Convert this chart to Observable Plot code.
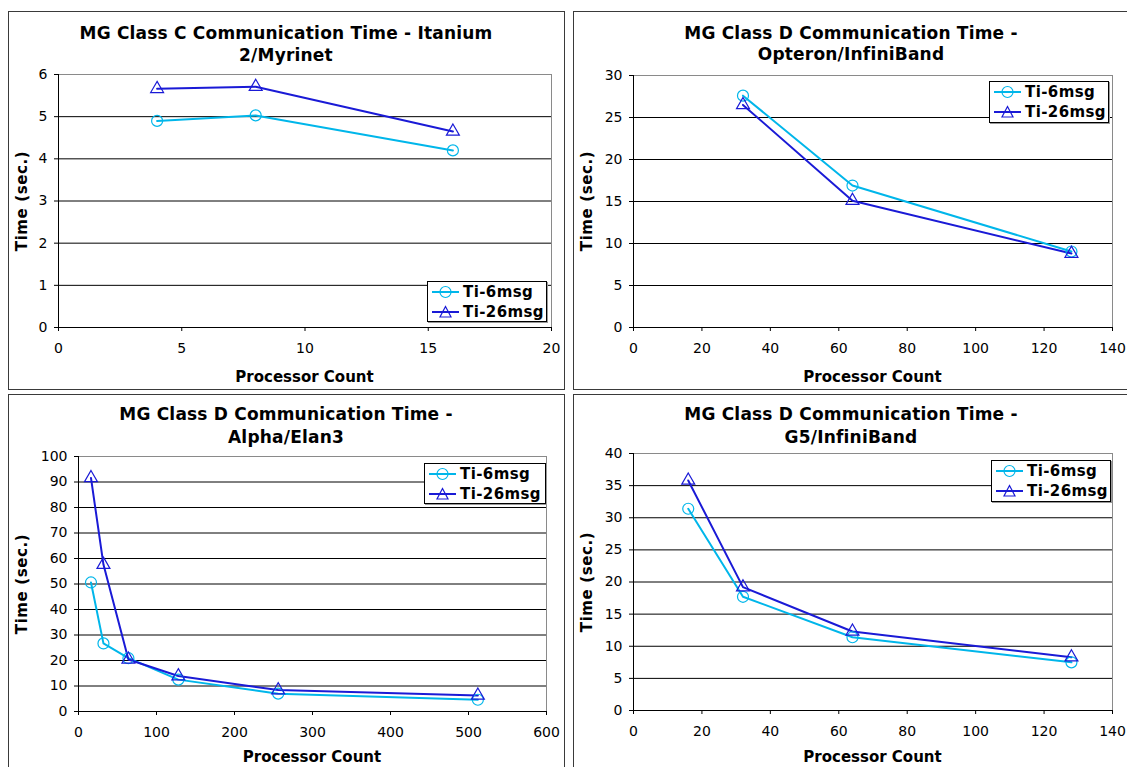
<!DOCTYPE html>
<html>
<head>
<meta charset="utf-8">
<script src="https://cdn.jsdelivr.net/npm/d3@7"></script>
<script src="https://cdn.jsdelivr.net/npm/@observablehq/plot@0.6"></script>
<style>
  html, body { margin: 0; padding: 0; background: #fff; }
  #root { position: relative; width: 1127px; height: 767px; overflow: hidden; background: #fff; font-family: "DejaVu Sans", Verdana, sans-serif; color: #000; }
  .box { position: absolute; border: 1px solid #3a3a3a; box-sizing: border-box; }
  .title { position: absolute; font-weight: bold; font-size: 17px; letter-spacing: 0.2px; text-align: center; line-height: 22px; white-space: nowrap; }
  .xlab { position: absolute; font-weight: bold; font-size: 15px; white-space: nowrap; transform: translate(-50%, -50%); }
  .ylab { position: absolute; font-weight: bold; font-size: 15px; letter-spacing: 0.6px; white-space: nowrap; transform: translate(-50%, -50%) rotate(-90deg); }
  .legend { position: absolute; border: 1px solid #000; background: #fff; box-sizing: border-box; box-shadow: 1px 1px 0 #999; }
  .legrow { position: absolute; left: 4px; height: 20px; display: flex; align-items: center; font-weight: bold; font-size: 15px; letter-spacing: 0.4px; white-space: nowrap; }
  .legrow svg { margin-right: 4px; }
  svg.plot { position: absolute; }
</style>
</head>
<body>
<div id="root"></div>
<script>
// ---- Data ----
const seriesNames = ["Ti-6msg", "Ti-26msg"];
const seriesColors = ["#00B6EA", "#1A1AD6"];

const p1Title = ["MG Class C Communication Time - Itanium", "2/Myrinet"];
const p1X = [4, 8, 16];
const p1Ti6 = [4.9, 5.03, 4.2];
const p1Ti26 = [5.66, 5.71, 4.65];
const p1XTicks = [0, 5, 10, 15, 20];
const p1YTicks = [0, 1, 2, 3, 4, 5, 6];

const p2Title = ["MG Class D Communication Time -", "Opteron/InfiniBand"];
const p2X = [32, 64, 128];
const p2Ti6 = [27.6, 16.9, 9.05];
const p2Ti26 = [26.5, 15.1, 8.8];
const p2XTicks = [0, 20, 40, 60, 80, 100, 120, 140];
const p2YTicks = [0, 5, 10, 15, 20, 25, 30];

const p3Title = ["MG Class D Communication Time -", "Alpha/Elan3"];
const p3X = [16, 32, 64, 128, 256, 512];
const p3Ti6 = [50.6, 26.7, 20.9, 12.5, 7.0, 4.6];
const p3Ti26 = [91.6, 57.6, 20.4, 13.9, 8.4, 6.3];
const p3XTicks = [0, 100, 200, 300, 400, 500, 600];
const p3YTicks = [0, 10, 20, 30, 40, 50, 60, 70, 80, 90, 100];

const p4Title = ["MG Class D Communication Time -", "G5/InfiniBand"];
const p4X = [16, 32, 64, 128];
const p4Ti6 = [31.4, 17.7, 11.4, 7.5];
const p4Ti26 = [35.8, 19.2, 12.3, 8.3];
const p4XTicks = [0, 20, 40, 60, 80, 100, 120, 140];
const p4YTicks = [0, 5, 10, 15, 20, 25, 30, 35, 40];

const xLabel = "Processor Count";
const yLabel = "Time (sec.)";

// ---- Layout (pixel geometry of each panel) ----
const panels = [
  { title: p1Title, x: p1X, a: p1Ti6, b: p1Ti26, xt: p1XTicks, yt: p1YTicks,
    box: [8, 11, 557, 379], area: [58, 551, 74, 327], titleY: [33, 55], xlabY: 377, legend: [427, 281, 120, 41] },
  { title: p2Title, x: p2X, a: p2Ti6, b: p2Ti26, xt: p2XTicks, yt: p2YTicks,
    box: [573, 11, 570, 379], area: [633, 1112, 75, 327], titleY: [33, 54], xlabY: 377, legend: [989, 81, 120, 42] },
  { title: p3Title, x: p3X, a: p3Ti6, b: p3Ti26, xt: p3XTicks, yt: p3YTicks,
    box: [8, 394, 557, 390], area: [78, 546, 456, 711], titleY: [414, 437], xlabY: 757, legend: [424, 463, 122, 41] },
  { title: p4Title, x: p4X, a: p4Ti6, b: p4Ti26, xt: p4XTicks, yt: p4YTicks,
    box: [573, 394, 570, 390], area: [633, 1112, 453, 710], titleY: [414, 437], xlabY: 757, legend: [991, 460, 120, 42] }
];

const root = document.getElementById("root");
const FONT = '"DejaVu Sans", Verdana, sans-serif';

function el(tag, cls, style, text) {
  const e = document.createElement(tag);
  if (cls) e.className = cls;
  Object.assign(e.style, style || {});
  if (text != null) e.textContent = text;
  root.appendChild(e);
  return e;
}

function legendIcon(color, symbol) {
  const ns = "http://www.w3.org/2000/svg";
  const s = document.createElementNS(ns, "svg");
  s.setAttribute("width", 27); s.setAttribute("height", 14);
  const l = document.createElementNS(ns, "line");
  l.setAttribute("x1", 0); l.setAttribute("x2", 27); l.setAttribute("y1", 7); l.setAttribute("y2", 7);
  l.setAttribute("stroke", color); l.setAttribute("stroke-width", 2);
  s.appendChild(l);
  let m;
  if (symbol === "circle") {
    m = document.createElementNS(ns, "circle");
    m.setAttribute("cx", 13.5); m.setAttribute("cy", 7); m.setAttribute("r", 5.5);
  } else {
    m = document.createElementNS(ns, "path");
    m.setAttribute("d", "M13.5,1.5L19,12L8,12Z");
  }
  m.setAttribute("fill", "none"); m.setAttribute("stroke", color); m.setAttribute("stroke-width", 1.2);
  s.appendChild(m);
  return s;
}

panels.forEach(p => {
  const [bx, by, bw, bh] = p.box;
  const [ax0, ax1, ay0, ay1] = p.area;
  el("div", "box", { left: bx + "px", top: by + "px", width: bw + "px", height: bh + "px" });

  const rowsA = p.x.map((xv, i) => ({ x: xv, y: p.a[i], s: seriesNames[0] }));
  const rowsB = p.x.map((xv, i) => ({ x: xv, y: p.b[i], s: seriesNames[1] }));

  const xmin = p.xt[0], xmax = p.xt[p.xt.length - 1];
  const ymin = p.yt[0], ymax = p.yt[p.yt.length - 1];
  const inner = p.yt.slice(1, -1);

  const chart = Plot.plot({
    width: bw, height: bh,
    marginLeft: ax0 - bx, marginRight: bx + bw - ax1,
    marginTop: ay0 - by, marginBottom: by + bh - ay1,
    x: { domain: [xmin, xmax] },
    y: { domain: [ymin, ymax] },
    style: { fontFamily: FONT, fontSize: "14px", color: "#000", background: "transparent", overflow: "visible" },
    marks: [
      Plot.frame({ stroke: "#8a8a8a", strokeWidth: 1 }),
      Plot.ruleY(inner, { stroke: "#000", strokeWidth: 1 }),
      Plot.ruleY([ymin], { stroke: "#000", strokeWidth: 1 }),
      Plot.ruleX([xmin], { stroke: "#000", strokeWidth: 1 }),
      Plot.axisX({ ticks: p.xt, tickSize: 4, tickPadding: 12, label: null, tickFormat: d => String(d), stroke: "#000", fill: "#000" }),
      Plot.axisY({ ticks: p.yt, tickSize: 4, tickPadding: 7, label: null, tickFormat: d => String(d), stroke: "#000", fill: "#000" }),
      Plot.line(rowsA, { x: "x", y: "y", stroke: seriesColors[0], strokeWidth: 2 }),
      Plot.line(rowsB, { x: "x", y: "y", stroke: seriesColors[1], strokeWidth: 2 }),
      Plot.dot(rowsA, { x: "x", y: "y", symbol: "circle", r: 5.5, stroke: seriesColors[0], fill: "none", strokeWidth: 1.2 }),
      Plot.dot(rowsB, { x: "x", y: "y", symbol: "triangle", r: 4.8, stroke: seriesColors[1], fill: "none", strokeWidth: 1.2 })
    ]
  });
  chart.classList.add("plot");
  chart.style.left = bx + "px";
  chart.style.top = by + "px";
  root.appendChild(chart);

  // Title
  const cx = bx + 278;
  p.title.forEach((t, i) => {
    el("div", "title", { left: cx + "px", top: (p.titleY[i] - 11) + "px", transform: "translateX(-50%)" }, t);
  });
  // Axis labels
  el("div", "xlab", { left: ((ax0 + ax1) / 2) + "px", top: p.xlabY + "px" }, xLabel);
  el("div", "ylab", { left: (bx + 14) + "px", top: ((ay0 + ay1) / 2) + "px" }, yLabel);

  // Legend
  const [lx, ly, lw, lh] = p.legend;
  const lg = el("div", "legend", { left: lx + "px", top: ly + "px", width: lw + "px", height: lh + "px" });
  seriesNames.forEach((name, i) => {
    const r = document.createElement("div");
    r.className = "legrow";
    r.style.top = (i * 20) + "px";
    r.appendChild(legendIcon(seriesColors[i], i === 0 ? "circle" : "triangle"));
    const sp = document.createElement("span");
    sp.textContent = name;
    r.appendChild(sp);
    lg.appendChild(r);
  });
});
</script>
</body>
</html>
